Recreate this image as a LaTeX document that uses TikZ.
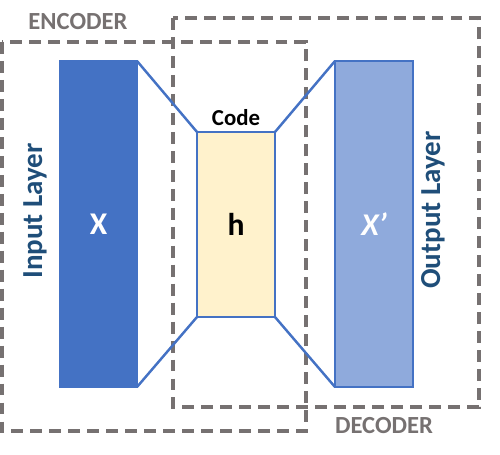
\documentclass[tikz,border=0pt]{standalone}
\usepackage{fontspec}
\setmainfont{Carlito}
\usetikzlibrary{positioning}
\definecolor{barblue}{HTML}{4472C4}
\definecolor{lightblue}{HTML}{8FAADC}
\definecolor{codefill}{HTML}{FFF2CC}
\definecolor{boxgray}{HTML}{767171}
\definecolor{labelblue}{HTML}{1F4E79}
\tikzset{
  layerbar/.style={draw=barblue, line width=0.6pt, inner sep=0pt, outer sep=0pt},
  funnel/.style={draw=barblue, line width=1.4pt},
  groupbox/.style={draw=boxgray, line width=2pt, dash pattern=on 6.8pt off 4pt},
  grouptext/.style={text=boxgray, font=\bfseries\fontsize{14}{16}\selectfont},
  layertext/.style={text=labelblue, font=\bfseries\fontsize{16.5}{18}\selectfont, rotate=90}
}
\begin{document}
\begin{tikzpicture}[x=0.02cm, y=-0.02cm]
    % Page frame
    \useasboundingbox (0,0) rectangle (500,455);

    % Encoder and decoder groups
    \draw[groupbox] (2,42) rectangle (306,431);
    \draw[groupbox] (173,18) rectangle (479,407);
    \node[grouptext] (enclabel) at (78,22) {ENCODER};
    \node[grouptext] (declabel) at (384,426) {DECODER};

    % Layers
    \node[layerbar, fill=barblue, minimum width=77*0.02cm, minimum height=326*0.02cm]
      (input) at (98.5,224) {};
    \node[layerbar, fill=codefill, minimum width=78*0.02cm, minimum height=185*0.02cm]
      (code) at (236,224.5) {};
    \node[layerbar, fill=lightblue, minimum width=78*0.02cm, minimum height=326*0.02cm]
      (output) at (374,224) {};

    % Symbols
    \node[text=white, font=\bfseries\fontsize{18}{20}\selectfont] (xin) at (input) {X};
    \node[font=\bfseries\fontsize{18}{20}\selectfont] (hid) at (code) {h};
    \node[text=white, font=\bfseries\itshape\fontsize{18}{20}\selectfont] (xout) at (output) {X’};
    \node[font=\bfseries\fontsize{13}{15}\selectfont, above=0pt of code] (codelabel) {Code};

    % Funnel lines
    \draw[funnel] (input.north east) -- (code.north west);
    \draw[funnel] (input.south east) -- (code.south west);
    \draw[funnel] (code.north east) -- (output.north west);
    \draw[funnel] (code.south east) -- (output.south west);

    % Side labels
    \node[layertext] (inlabel) at (35,211) {Input Layer};
    \node[layertext] (outlabel) at (433,210) {Output Layer};
  \end{tikzpicture}
\end{document}
